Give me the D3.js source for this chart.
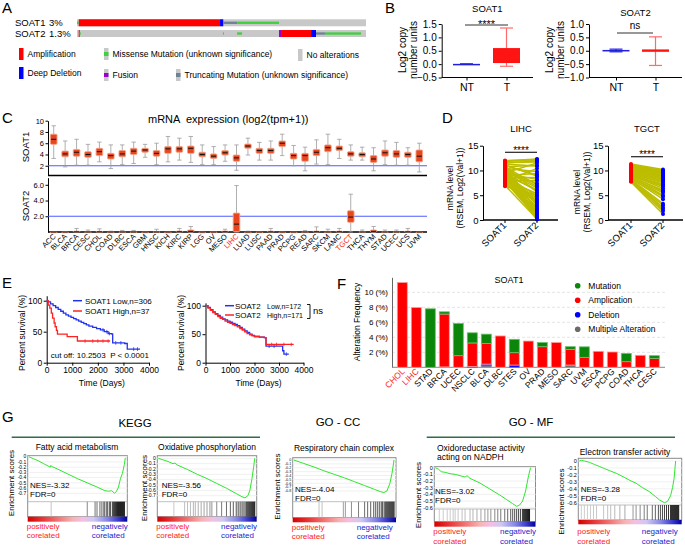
<!DOCTYPE html>
<html>
<head>
<meta charset="utf-8">
<script src="https://cdn.jsdelivr.net/npm/d3@7"></script>
<style>
  body { margin: 0; background: #fff; }
  svg { display: block; font-family: "Liberation Sans", Arial, Helvetica, sans-serif; }
</style>
</head>
<body>
<div id="chart"></div>
<script>
// ---------- A: oncoprint (sample index out of 1000) ----------
var genes = ['SOAT1', 'SOAT2'];
var genePct = ['3%', '1.3%'];
var amplification = [['SOAT1', 6, 495], ['SOAT2', 6, 9], ['SOAT2', 706, 810]];
var deepDeletion = [['SOAT1', 495, 506], ['SOAT2', 810, 827]];
var missense = [['SOAT1', 0, 6], ['SOAT1', 554, 699], ['SOAT2', 9, 13], ['SOAT2', 505, 508], ['SOAT2', 554, 571], ['SOAT2', 858, 983]];
var truncating = [['SOAT1', 506, 554], ['SOAT2', 827, 858]];
var fusion = [['SOAT2', 699, 706]];
var alterationTypes = ['Amplification', 'Missense Mutation (unknown significance)', 'No alterations',
  'Deep Deletion', 'Fusion', 'Truncating Mutation (unknown significance)'];

// ---------- B: copy number, [min, q1, median, q3, max] ----------
var cnGroups = ['NT', 'T'];
var soat1CN = [[-0.01, -0.01, 0, 0.01, 0.01], [-0.08, 0.04, 0.08, 0.6, 1.35]];
var soat2CN = [[-0.04, -0.02, 0.01, 0.03, 0.06], [-0.55, -0.04, 0.01, 0.05, 0.52]];

// ---------- C: pan-cancer expression ----------
var cancers = ['ACC', 'BLCA', 'BRCA', 'CESC', 'CHOL', 'COAD', 'DLBC', 'ESCA', 'GBM', 'HNSC', 'KICH', 'KIRC',
  'KIRP', 'LGG', 'OV', 'MESO', 'LIHC', 'LUAD', 'LUSC', 'PAAD', 'PRAD', 'PCPG', 'READ', 'SARC', 'SKCM', 'LAMC',
  'TGCT', 'THCA', 'THYM', 'STAD', 'UCEC', 'UCS', 'UVM'];
var highlighted = ['LIHC', 'TGCT'];
var soat1Stats = [
  [3.3, 5.8, 6.7, 7.6, 9.1], [1.8, 3.6, 4.1, 4.6, 6.4], [2.1, 3.7, 4.4, 4.9, 6.7], [2.1, 3.5, 4.0, 4.5, 5.8],
  [2.7, 3.8, 4.5, 5.1, 6.2], [1.5, 3.2, 3.8, 4.2, 5.7], [2.2, 3.6, 4.1, 4.7, 5.7], [2.4, 4.0, 4.6, 5.1, 6.2],
  [3.5, 4.4, 4.8, 5.1, 5.8], [2.2, 3.7, 4.2, 4.7, 6.0], [2.7, 4.2, 5.0, 5.4, 7.2], [3.0, 4.4, 5.0, 5.4, 6.9],
  [2.6, 4.2, 5.1, 5.5, 7.2], [2.2, 3.6, 4.0, 4.4, 5.7], [2.2, 3.3, 3.7, 4.1, 5.4], [2.8, 3.9, 4.3, 4.7, 5.7],
  [1.2, 2.8, 3.4, 3.9, 5.7], [3.9, 5.1, 5.5, 5.85, 6.9], [3.0, 4.2, 4.7, 5.1, 6.15], [3.0, 4.2, 4.7, 5.1, 6.4],
  [3.8, 5.4, 6.0, 6.4, 7.6], [2.0, 3.2, 3.8, 4.2, 5.6], [1.1, 2.8, 3.8, 4.2, 5.3], [2.3, 3.8, 4.4, 4.9, 6.6],
  [2.2, 4.5, 5.2, 5.7, 7.6], [3.3, 4.7, 5.1, 5.5, 6.7], [3.0, 3.7, 4.1, 4.5, 5.7], [3.0, 3.6, 4.0, 4.3, 5.3],
  [1.1, 2.6, 3.2, 3.8, 5.2], [2.2, 3.7, 4.3, 4.8, 6.4], [2.1, 3.5, 4.1, 4.7, 6.15], [2.1, 3.5, 4.0, 4.4, 5.2],
  [0.9, 2.7, 3.7, 4.8, 6.0]];
var soat2Stats = [
  [0, 0, 0, 0, 0.02], [0, 0, 0, 0.01, 0.05], [0, 0, 0.02, 0.1, 0.45], [0, 0, 0, 0.03, 0.25],
  [0, 0, 0.02, 0.08, 0.4], [0, 0, 0, 0.02, 0.1], [0, 0, 0, 0.03, 0.2], [0, 0, 0, 0.03, 0.2],
  [0, 0, 0, 0, 0.02], [0, 0, 0, 0.04, 0.35], [0, 0, 0, 0, 0.02], [0, 0, 0.03, 0.12, 0.45],
  [0, 0.02, 0.08, 0.25, 0.7], [0, 0, 0, 0, 0.01], [0, 0, 0, 0.02, 0.06], [0, 0, 0.03, 0.1, 0.35],
  [0, 0.05, 1.0, 2.4, 5.9], [0, 0, 0, 0.01, 0.1], [0, 0, 0, 0.01, 0.05], [0, 0, 0.02, 0.1, 0.45],
  [0, 0, 0, 0.01, 0.05], [0, 0, 0, 0, 0.02], [0, 0, 0, 0.03, 0.2], [0, 0, 0.03, 0.1, 0.65],
  [0, 0, 0, 0.03, 0.35], [0, 0, 0.03, 0.1, 0.45], [0, 1.23, 1.9, 2.7, 4.8], [0, 0, 0, 0.05, 0.25],
  [0, 0.02, 0.08, 0.25, 0.7], [0, 0, 0, 0.03, 0.25], [0, 0, 0, 0.03, 0.25], [0, 0, 0.02, 0.1, 0.45],
  [0, 0, 0, 0, 0.02]];

// ---------- D: paired expression ----------
var lihcSoat1 = [11.8, 11.5, 11.2, 10.9, 10.6, 10.4, 10.1, 9.9, 9.7, 9.5, 9.3, 9.1, 8.9, 8.7, 8.5, 8.3, 8.1,
  7.9, 7.6, 7.3, 7.0, 6.8, 11.9, 11.0, 10.2, 9.6, 9.0, 8.6, 8.0, 7.5, 10.8, 10.0, 9.4, 8.8, 8.2, 11.3, 10.5,
  9.8, 9.2, 8.4, 7.8, 11.6, 10.7, 9.9, 9.0, 8.6, 12.0, 11.1, 10.3, 9.5];
var lihcSoat2 = [12.2, 11.9, 0.3, 5.6, 2.1, 9.8, 0.8, 7.4, 3.3, 11.5, 1.2, 6.1, 0.1, 4.4, 8.6, 2.7, 0.5,
  10.4, 1.7, 3.9, 0.2, 5.0, 12.3, 9.1, 6.8, 1.4, 4.8, 0.6, 7.9, 2.4, 11.0, 3.6, 8.2, 0.9, 5.3, 10.9, 2.0,
  6.5, 1.1, 4.1, 0.4, 11.7, 7.1, 3.0, 9.4, 1.9, 12.1, 8.9, 0.7, 5.9];
var tgctSoat1 = [11.3, 11.0, 10.8, 10.6, 10.4, 10.2, 10.0, 9.8, 9.6, 9.4, 9.2, 9.0, 8.8, 8.6, 8.4, 8.2, 8.0,
  7.8, 11.1, 10.7, 10.3, 9.9, 9.5, 9.1, 8.7, 8.3, 7.9, 10.9, 10.1, 9.3, 8.5, 7.7, 10.5, 9.7, 8.9, 8.1];
var tgctSoat2 = [10.2, 9.8, 9.5, 9.3, 9.0, 8.8, 8.5, 8.2, 7.9, 7.5, 7.0, 6.4, 5.8, 5.0, 4.2, 3.3, 2.5,
  1.8, 10.0, 9.6, 9.1, 8.6, 8.0, 7.2, 6.0, 4.7, 3.0, 9.7, 8.9, 7.7, 5.5, 1.2, 9.4, 8.3, 6.8, 2.2];

// ---------- E: survival, [days, percent] ----------
var kmSoat1Low = [[0, 100], [60, 98], [150, 95], [250, 92], [350, 89], [450, 86], [550, 83], [650, 80],
  [750, 77], [850, 75], [950, 73], [1050, 71], [1150, 69], [1250, 67], [1350, 65], [1450, 63], [1550, 61],
  [1650, 59], [1800, 57], [1950, 55], [2100, 53], [2250, 50], [2400, 47], [2550, 46], [2580, 32],
  [3050, 31], [3150, 22], [3650, 22]];
var kmSoat1High = [[0, 100], [60, 93], [120, 88], [180, 80], [230, 72], [290, 64], [330, 58], [380, 52],
  [420, 46], [760, 46], [800, 42], [1180, 42], [1200, 35], [2480, 35]];
var kmSoat2Low = [[0, 100], [100, 97], [200, 93], [300, 89], [400, 86], [500, 83], [600, 80], [700, 77],
  [800, 75], [900, 73], [1000, 71], [1100, 69], [1200, 67], [1300, 65], [1400, 62], [1500, 59], [1600, 56],
  [1700, 53], [1800, 50], [1900, 48], [2000, 46], [2200, 45], [2400, 44], [2470, 29], [3130, 29],
  [3150, 21], [3200, 15], [3400, 15]];
var kmSoat2High = [[0, 100], [100, 96], [200, 92], [300, 88], [400, 85], [500, 81], [600, 78], [700, 76],
  [800, 73], [900, 71], [1000, 69], [1100, 67], [1200, 65], [1300, 63], [1400, 60], [1500, 57], [1600, 54],
  [1700, 51], [1800, 49], [1900, 47], [2000, 46], [2200, 45], [2400, 44], [2470, 32], [3600, 32]];
var censorSoat1Low = [2200, 2350, 2450, 2700, 2900, 3400, 3550];
var censorSoat1High = [1500, 1800, 2000, 2200, 2400];
var censorSoat2Low = [2600, 2800, 3300];
var censorSoat2High = [2700, 2900, 3200, 3500];

// ---------- F: alteration frequency (%) ----------
var freqCancers = ['CHOL', 'LIHC', 'STAD', 'BRCA', 'UCEC', 'NSCLC', 'BLCA', 'DLBC', 'STES', 'OV', 'PRAD',
  'MESO', 'SARC', 'UVM', 'ESCA', 'PCPG', 'COAD', 'THCA', 'CESC'];
var freqMutation = [0, 0, 7.8, 0.3, 4.3, 1.35, 1.25, 0, 1.78, 0, 0.55, 0, 0.35, 1.4, 0, 0, 1.1, 0, 0.35];
var freqAmplification = [11.3, 7.96, 0, 7.05, 1.55, 3.15, 2.75, 4.18, 1.65, 3.5, 2.75, 3.3, 2.1, 1.33, 2.13, 2.04, 0.75, 1.6, 1.2];
var freqDeletion = [0, 0, 0, 0, 0, 0.1, 0.22, 0, 0.3, 0, 0, 0, 0, 0, 0, 0, 0, 0, 0];
var freqMultiple = [0, 0, 0, 0.05, 0, 0, 0.2, 0, 0, 0, 0, 0, 0.3, 0, 0, 0, 0, 0, 0];
var freqKeys = ['multiple', 'deletion', 'amplification', 'mutation'];
var freqLegend = ['Mutation', 'Amplication', 'Deletion', 'Multiple Alteration'];

// ---------- G: GSEA ----------
var gseaGroups = ['KEGG', 'GO - CC', 'GO - MF'];
var gseaTitles = [['Fatty acid metabolism'], ['Oxidative phosphorylation'], ['Respiratory chain complex'],
  ['Oxidoreductase activity', 'acting on NADPH'], ['Electron transfer activity']];
var gseaNES = ['-3.32', '-3.56', '-4.04', '-3.02', '-3.28'];
var gseaMinTick = [-0.7, -0.7, -0.8, -0.6, -0.6];
var esFattyAcid = [[0, 0], [0.05, -0.04], [0.1, -0.08], [0.15, -0.13], [0.2, -0.18], [0.22, -0.2], [0.225, -0.17],
  [0.24, -0.19], [0.3, -0.24], [0.4, -0.33], [0.5, -0.42], [0.6, -0.5], [0.7, -0.58], [0.78, -0.65], [0.82, -0.66],
  [0.85, -0.65], [0.88, -0.7], [0.9, -0.66], [0.92, -0.58], [0.94, -0.42], [0.96, -0.32], [0.98, -0.15], [0.99, -0.02]];
var esOxPhos = [[0, 0], [0.05, -0.03], [0.1, -0.06], [0.15, -0.1], [0.17, -0.09], [0.2, -0.13], [0.3, -0.21],
  [0.4, -0.3], [0.5, -0.38], [0.6, -0.47], [0.7, -0.56], [0.8, -0.66], [0.86, -0.72], [0.89, -0.74], [0.92, -0.7],
  [0.94, -0.6], [0.96, -0.4], [0.98, -0.15], [0.99, 0]];
var esRespChain = [[0, 0], [0.1, -0.09], [0.2, -0.18], [0.3, -0.28], [0.4, -0.37], [0.5, -0.46], [0.6, -0.56],
  [0.7, -0.66], [0.8, -0.76], [0.86, -0.82], [0.89, -0.84], [0.92, -0.8], [0.95, -0.6], [0.97, -0.35],
  [0.985, -0.1], [0.99, 0]];
var esNADPH = [[0, 0], [0.03, -0.02], [0.06, -0.06], [0.1, -0.07], [0.15, -0.09], [0.2, -0.1], [0.25, -0.12],
  [0.3, -0.14], [0.32, -0.12], [0.35, -0.16], [0.45, -0.23], [0.55, -0.32], [0.65, -0.41], [0.72, -0.48],
  [0.78, -0.54], [0.82, -0.58], [0.85, -0.56], [0.88, -0.5], [0.91, -0.35], [0.94, -0.12], [0.96, 0]];
var esElectron = [[0, 0], [0.02, 0.01], [0.05, 0], [0.1, -0.02], [0.15, -0.05], [0.2, -0.08], [0.25, -0.11],
  [0.3, -0.14], [0.37, -0.18], [0.45, -0.24], [0.5, -0.28], [0.56, -0.32], [0.62, -0.38], [0.69, -0.44],
  [0.75, -0.51], [0.79, -0.56], [0.84, -0.6], [0.87, -0.58], [0.9, -0.5], [0.92, -0.38], [0.935, -0.25], [0.95, 0]];
var hitsFattyAcid = [0.23, 0.6, 0.68, 0.7, 0.73, 0.75, 0.77, 0.78, 0.8, 0.81, 0.83, 0.84, 0.86, 0.87, 0.88,
  0.89, 0.9, 0.91, 0.92, 0.93, 0.94, 0.95, 0.96, 0.97, 0.98];
var hitsOxPhos = [0.16, 0.27, 0.3, 0.33, 0.36, 0.38, 0.41, 0.44, 0.47, 0.5, 0.53, 0.55, 0.6, 0.65, 0.7, 0.74,
  0.77, 0.8, 0.82, 0.84, 0.86, 0.88, 0.9, 0.91, 0.92, 0.93, 0.94, 0.95, 0.96, 0.97, 0.98, 0.99];
var hitsRespChain = [0.25, 0.28, 0.49, 0.51, 0.57, 0.64, 0.7, 0.73, 0.76, 0.79, 0.81, 0.83, 0.85, 0.87, 0.88,
  0.9, 0.91, 0.92, 0.93, 0.94, 0.95, 0.96, 0.97, 0.98, 0.99];
var hitsNADPH = [0.04, 0.08, 0.12, 0.15, 0.18, 0.2, 0.23, 0.27, 0.3, 0.35, 0.38, 0.42, 0.46, 0.5, 0.53, 0.56,
  0.6, 0.63, 0.66, 0.7, 0.73, 0.76, 0.78, 0.8, 0.82, 0.84, 0.86, 0.88, 0.89, 0.9, 0.91, 0.92, 0.93, 0.94, 0.95];
var hitsElectron = [0.02, 0.05, 0.08, 0.11, 0.14, 0.17, 0.24, 0.28, 0.31, 0.35, 0.4, 0.45, 0.53, 0.56, 0.6,
  0.64, 0.67, 0.72, 0.75, 0.78, 0.8, 0.82, 0.84, 0.86, 0.88, 0.9, 0.91, 0.92, 0.93, 0.94, 0.95, 0.96, 0.97, 0.98];
var gseaCurves = [esFattyAcid, esOxPhos, esRespChain, esNADPH, esElectron];
var gseaHits = [hitsFattyAcid, hitsOxPhos, hitsRespChain, hitsNADPH, hitsElectron];

// =====================================================================
var svg = d3.select('#chart').append('svg').attr('width', 685).attr('height', 545);

function txt(g, s, x, y, size, anchor, fill) {
  return g.append('text').attr('x', x).attr('y', y).attr('font-size', size)
    .attr('text-anchor', anchor || 'start').attr('fill', fill || '#000').text(s);
}
function vtxt(g, s, x, y, size) {
  return g.append('text').attr('transform', 'translate(' + x + ',' + y + ') rotate(-90)')
    .attr('font-size', size).attr('text-anchor', 'middle').text(s);
}
function styleAxis(g, size) {
  g.attr('font-family', null).attr('font-size', size);
  g.selectAll('.tick text').attr('fill', '#000');
}
function hline(g, x1, x2, y, color, w) {
  return g.append('line').attr('x1', x1).attr('x2', x2).attr('y1', y).attr('y2', y)
    .attr('stroke', color || '#000').attr('stroke-width', w || 1);
}

[['A', 2, 13], ['B', 385, 13], ['C', 2, 123], ['D', 442, 123], ['E', 2, 288], ['F', 337, 289], ['G', 2, 422]]
  .forEach(function (p) { txt(svg, p[0], p[1], p[2], 15); });

// ---------- A ----------
var gA = svg.append('g');
var xA = d3.scaleLinear().domain([0, 1000]).range([77, 366]);
var yA = d3.scaleBand().domain(genes).range([19.3, 37]).paddingInner(0.35);
var bwA = yA.bandwidth();
gA.selectAll('rect.track').data(genes).join('rect').attr('class', 'track')
  .attr('x', xA(0)).attr('width', xA(1000) - xA(0))
  .attr('y', d => yA(d)).attr('height', bwA).attr('fill', '#c8c8c8');
function alteration(data, color, thin) {
  gA.append('g').selectAll('rect').data(data).join('rect')
    .attr('x', d => xA(d[1])).attr('width', d => Math.max(1, xA(d[2]) - xA(d[1])))
    .attr('y', d => yA(d[0]) + (thin ? bwA / 3 : 0))
    .attr('height', thin ? bwA / 3 : bwA).attr('fill', color);
}
alteration(amplification, '#ff0000', false);
alteration(deepDeletion, '#0000ff', false);
alteration(fusion, '#9a00cc', false);
alteration(truncating, '#6e8296', true);
alteration(missense, '#3fcf3f', true);
genes.forEach(function (g, i) {
  txt(gA, g, 15, yA(g) + bwA / 2 + 3.4, 9.5);
  txt(gA, genePct[i], 49, yA(g) + bwA / 2 + 3.4, 9.5);
});
var legA = [
  { x: 19, y: 48, fill: '#ff0000', mid: null }, { x: 104, y: 48, fill: '#c8c8c8', mid: '#3fcf3f' },
  { x: 298, y: 49, fill: '#c8c8c8', mid: null }, { x: 19, y: 67, fill: '#0000ff', mid: null },
  { x: 104, y: 69, fill: '#c8c8c8', mid: '#9a00cc' }, { x: 176, y: 69, fill: '#c8c8c8', mid: '#6e8296' }];
legA.forEach(function (l, i) {
  gA.append('rect').attr('x', l.x).attr('y', l.y).attr('width', 4.5).attr('height', 12).attr('fill', l.fill);
  if (l.mid) gA.append('rect').attr('x', l.x).attr('y', l.y + 4).attr('width', 4.5).attr('height', 4).attr('fill', l.mid);
  txt(gA, alterationTypes[i], l.x + 8.5, l.y + 9, 8.5);
});

// ---------- B ----------
function cnPanel(stats, axisX, axisR, pts, dom, ticks, title, titleY, sig, sigLineY, sigX1, sigX2, labX) {
  var g = svg.append('g');
  var y = d3.scaleLinear().domain(dom).range([77.5, 24]);
  var x = d3.scalePoint().domain(cnGroups).range(pts);
  g.append('g').attr('transform', 'translate(' + axisX + ',0)')
    .call(d3.axisLeft(y).tickValues(ticks).tickFormat(d3.format('.1f')).tickSize(3).tickSizeOuter(0).tickPadding(2))
    .call(styleAxis, 10);
  hline(g, axisX, axisR, y(dom[0]));
  g.append('g').attr('transform', 'translate(0,' + y(dom[0]) + ')')
    .call(d3.axisBottom(x).tickSize(3).tickPadding(3))
    .call(styleAxis, 10.5).call(a => a.select('.domain').remove());
  var box = g.selectAll('g.box').data(stats).join('g').attr('class', 'box')
    .attr('transform', (d, i) => 'translate(' + x(cnGroups[i]) + ',0)');
  var col = (d, i) => i === 0 ? '#1f1fdd' : '#ff1414';
  var wcol = (d, i) => i === 0 ? '#1f1fdd' : '#ff6a6a';
  box.append('line').attr('y1', d => y(d[0])).attr('y2', d => y(d[4])).attr('stroke', wcol).attr('stroke-width', 1.2);
  box.append('line').attr('x1', -6.5).attr('x2', 6.5).attr('y1', d => y(d[4])).attr('y2', d => y(d[4])).attr('stroke', wcol).attr('stroke-width', 1.2);
  box.append('line').attr('x1', -6.5).attr('x2', 6.5).attr('y1', d => y(d[0])).attr('y2', d => y(d[0])).attr('stroke', wcol).attr('stroke-width', 1.2);
  box.append('rect').attr('x', -13.5).attr('width', 27).attr('y', d => y(d[3]))
    .attr('height', d => Math.max(1.5, y(d[1]) - y(d[3]))).attr('fill', col);
  txt(g, title, (axisX + axisR) / 2, titleY, 9.5, 'middle');
  hline(g, sigX1, sigX2, sigLineY, '#333', 1.2);
  txt(g, sig, (sigX1 + sigX2) / 2, sigLineY - (sig === 'ns' ? 4 : -3), sig === 'ns' ? 10 : 11, 'middle');
  vtxt(g, 'Log2 copy', labX, 50, 10);
  vtxt(g, 'number units', labX + 10.5, 50, 10);
}
cnPanel(soat1CN, 441.7, 533, [466.5, 506.5], [-0.5, 1.5], [-0.5, 0, 0.5, 1, 1.5], 'SOAT1', 11.5, '****', 25, 465, 508, 406);
cnPanel(soat2CN, 589, 682, [616, 655.5], [-1, 1], [-1, -0.5, 0, 0.5, 1], 'SOAT2', 16, 'ns', 33, 617, 653, 553);

// ---------- C ----------
var gC = svg.append('g');
var xC = d3.scaleBand().domain(cancers).range([48, 425]);
var cx = d => xC(d) + xC.bandwidth() / 2;
var yC1 = d3.scaleLinear().domain([0.27, 10]).range([175.5, 120.7]);
var yC2 = d3.scaleLinear().domain([0, 6.9]).range([232, 177.7]);
gC.append('g').attr('transform', 'translate(48,0)')
  .call(d3.axisLeft(yC1).tickValues([2, 4, 6, 8, 10]).tickSize(2.5).tickSizeOuter(0).tickPadding(1.5)).call(styleAxis, 7.5);
gC.append('g').attr('transform', 'translate(48,0)')
  .call(d3.axisLeft(yC2).tickValues([2, 4, 6]).tickSize(2.5).tickSizeOuter(0).tickPadding(1.5)).call(styleAxis, 7.5);
hline(gC, 48, 427, yC1(2), '#4d5cff', 1.2);
hline(gC, 48, 427, yC2(2), '#4d5cff', 1.2);
hline(gC, 48, 427, 175.5, '#000', 1.6);
hline(gC, 48, 427, 232, '#000', 1.3);
function cBoxes(stats, y) {
  var items = gC.append('g').selectAll('g').data(stats).join('g')
    .attr('transform', (d, i) => 'translate(' + cx(cancers[i]) + ',0)');
  items.append('line').attr('y1', d => y(d[0])).attr('y2', d => y(d[4])).attr('stroke', '#9c9c9c').attr('stroke-width', 0.8);
  items.append('line').attr('x1', -2.2).attr('x2', 2.2).attr('y1', d => y(d[4])).attr('y2', d => y(d[4])).attr('stroke', '#9c9c9c').attr('stroke-width', 0.8);
  items.append('line').attr('x1', -2.2).attr('x2', 2.2).attr('y1', d => y(d[0])).attr('y2', d => y(d[0])).attr('stroke', '#9c9c9c').attr('stroke-width', 0.8);
  items.append('rect').attr('x', -3.3).attr('width', 6.6).attr('y', d => y(d[3]))
    .attr('height', d => Math.max(0.8, y(d[1]) - y(d[3]))).attr('rx', 1)
    .attr('fill', '#e8461e').attr('stroke', '#f3a083').attr('stroke-width', 0.9);
  items.append('line').attr('x1', -2.6).attr('x2', 2.6).attr('y1', d => y(d[2])).attr('y2', d => y(d[2])).attr('stroke', '#111').attr('stroke-width', 1);
}
cBoxes(soat1Stats, yC1);
cBoxes(soat2Stats, yC2);
vtxt(gC, 'SOAT1', 28.5, 147, 9.5);
vtxt(gC, 'SOAT2', 28.5, 206, 9.5);
txt(gC, 'mRNA  expression (log2(tpm+1))', 148, 122.5, 11).style('white-space', 'pre');
gC.selectAll('text.cl').data(cancers).join('text').attr('class', 'cl')
  .attr('transform', d => 'translate(' + (cx(d) + 2.5) + ',237) rotate(-45)')
  .attr('text-anchor', 'end').attr('font-size', 7.5)
  .attr('fill', d => highlighted.indexOf(d) >= 0 ? '#ff2020' : '#000').text(d => d);

// ---------- D ----------
function pairedPanel(s1, s2, axisX, axisR, pts, title, sigLineY, labX, labY) {
  var g = svg.append('g');
  var y = d3.scaleLinear().domain([0, 15]).range([220, 145.7]);
  var x = d3.scalePoint().domain(['SOAT1', 'SOAT2']).range(pts);
  g.append('g').attr('transform', 'translate(' + axisX + ',0)')
    .call(d3.axisLeft(y).tickValues([0, 5, 10, 15]).tickSize(3).tickSizeOuter(0).tickPadding(1.5)).call(styleAxis, 9.5);
  hline(g, axisX, axisR, y(0), '#000', 1.3);
  g.selectAll('line.pair').data(d3.zip(s1, s2)).join('line').attr('class', 'pair')
    .attr('x1', x('SOAT1')).attr('x2', x('SOAT2')).attr('y1', d => y(d[0])).attr('y2', d => y(d[1]))
    .attr('stroke', '#bdbd00').attr('stroke-width', 1.5);
  g.selectAll('circle.s1').data(s1).join('circle').attr('class', 's1')
    .attr('cx', x('SOAT1')).attr('cy', d => y(d)).attr('r', 2).attr('fill', '#ff0000');
  g.selectAll('circle.s2').data(s2).join('circle').attr('class', 's2')
    .attr('cx', x('SOAT2')).attr('cy', d => y(d)).attr('r', 2).attr('fill', '#0000ff');
  g.selectAll('line.xt').data(x.domain()).join('line').attr('class', 'xt')
    .attr('x1', d => x(d)).attr('x2', d => x(d)).attr('y1', y(0)).attr('y2', y(0) + 3).attr('stroke', '#000');
  g.selectAll('text.xl').data(x.domain()).join('text').attr('class', 'xl')
    .attr('transform', d => 'translate(' + (x(d) + 2) + ',' + (y(0) + 6) + ') rotate(-45)')
    .attr('text-anchor', 'end').attr('font-size', 9.5).text(d => d);
  txt(g, title, (pts[0] + pts[1]) / 2, 131.5, 9.5, 'middle');
  hline(g, pts[0], pts[1], sigLineY, '#222', 1.2);
  txt(g, '****', (pts[0] + pts[1]) / 2, sigLineY + 1.5, 10, 'middle');
  vtxt(g, 'mRNA level', labX, labY, 8.5);
  vtxt(g, '(RSEM, Log2(Val+1))', labX + 10, labY, 8.5);
}
pairedPanel(lihcSoat1, lihcSoat2, 483, 558, [505, 537], 'LIHC', 152.3, 453, 188);
pairedPanel(tgctSoat1, tgctSoat2, 608, 683, [631, 663], 'TGCT', 156.7, 580, 192);

// ---------- E ----------
function kmPanel(curves, censors, colors, xr, y0, y100, yMax, legX, legY) {
  var g = svg.append('g');
  var x = d3.scaleLinear().domain([0, 4000]).range(xr);
  var y = d3.scaleLinear().domain([0, 100]).range([y0, y100]);
  var yAx = y.copy().domain([0, yMax]).range([y0, y(yMax)]);
  g.append('g').attr('transform', 'translate(' + xr[0] + ',0)')
    .call(d3.axisLeft(yAx).tickValues([0, 50, 100]).tickSize(3).tickSizeOuter(0).tickPadding(1.5)).call(styleAxis, 8.5);
  g.append('g').attr('transform', 'translate(0,' + y0 + ')')
    .call(d3.axisBottom(x).tickValues([0, 1000, 2000, 3000, 4000]).tickFormat(d3.format('d')).tickSize(3).tickSizeOuter(0).tickPadding(1.5))
    .call(styleAxis, 8.5);
  var line = d3.line().x(d => x(d[0])).y(d => y(d[1])).curve(d3.curveStepAfter);
  var bis = d3.bisector(d => d[0]).right;
  curves.forEach(function (c, i) {
    g.append('path').datum(c).attr('d', line).attr('fill', 'none').attr('stroke', colors[i]).attr('stroke-width', 1.3);
    g.selectAll(null).data(censors[i]).join('line')
      .attr('x1', d => x(d)).attr('x2', d => x(d))
      .attr('y1', d => y(c[Math.max(0, bis(c, d) - 1)][1]) - 1.8)
      .attr('y2', d => y(c[Math.max(0, bis(c, d) - 1)][1]) + 1.8)
      .attr('stroke', colors[i]).attr('stroke-width', 0.8);
    hline(g, legX, legX + 9, legY[i], colors[i], 1.5);
  });
  txt(g, 'Time (Days)', (xr[0] + xr[1]) / 2 + 4, 385.5, 8.5, 'middle');
  vtxt(g, 'Percent survival (%)', xr[0] - 22, 333, 8.5);
  return g;
}
var gE1 = kmPanel([kmSoat1Low, kmSoat1High], [censorSoat1Low, censorSoat1High], ['#2233ee', '#ff2222'],
  [46.7, 149], 362.7, 300.7, 108, 73, [300.7, 311]);
txt(gE1, 'SOAT1 Low,n=306', 85, 303.6, 8);
txt(gE1, 'SOAT1 High,n=37', 85, 313.9, 8);
txt(gE1, 'cut off: 10.2503  P < 0.0001', 50.7, 358, 8).style('white-space', 'pre');
var gE2 = kmPanel([kmSoat2Low, kmSoat2High], [censorSoat2Low, censorSoat2High], ['#2233ee', '#ff2222'],
  [205.5, 303.5], 362.7, 305.7, 105, 225, [305.7, 315]);
txt(gE2, 'SOAT2', 235, 308.6, 8);
txt(gE2, 'Low,n=172', 267, 308.6, 7);
txt(gE2, 'SOAT2', 235, 317.9, 8);
txt(gE2, 'High,n=171', 267, 317.9, 7);
gE2.append('path').attr('d', 'M307,304.5H310V318.5H307').attr('fill', 'none').attr('stroke', '#000').attr('stroke-width', 0.9);
txt(gE2, 'ns', 313, 313.5, 9.5);

// ---------- F ----------
var gF = svg.append('g');
var xF = d3.scaleBand().domain(freqCancers).range([395.3, 661.3]).paddingInner(0.286).paddingOuter(0.143);
var yF = d3.scaleLinear().domain([0, 12]).range([367.3, 277.3]);
var freqRows = freqCancers.map(function (c, i) {
  return { cancer: c, mutation: freqMutation[i], amplification: freqAmplification[i],
    deletion: freqDeletion[i], multiple: freqMultiple[i] };
});
var freqColors = { multiple: '#6b6b6b', deletion: '#0000ff', amplification: '#ff0000', mutation: '#0b860b' };
var freqStroke = { multiple: '#a0a0a0', deletion: '#6a6aff', amplification: '#ff9a9a', mutation: '#6cbf6c' };
gF.selectAll('line.grid').data([2, 4, 6, 8, 10]).join('line').attr('class', 'grid')
  .attr('x1', 392).attr('x2', 667).attr('y1', d => yF(d)).attr('y2', d => yF(d))
  .attr('stroke', '#e4e4e4').attr('stroke-dasharray', '3,2');
gF.append('g').attr('transform', 'translate(392,0)')
  .call(d3.axisLeft(yF).tickValues([2, 4, 6, 8, 10]).tickFormat(d => d + ' (%)').tickSize(0).tickPadding(4))
  .call(styleAxis, 8).call(a => a.select('.domain').attr('stroke', '#666'));
hline(gF, 392, 665, yF(0), '#888', 1);
gF.append('g').selectAll('g').data(d3.stack().keys(freqKeys)(freqRows)).join('g')
  .attr('fill', d => freqColors[d.key]).attr('stroke', d => freqStroke[d.key]).attr('stroke-width', 0.8)
  .selectAll('rect').data(d => d.filter(s => s[1] - s[0] > 0)).join('rect')
  .attr('x', d => xF(d.data.cancer)).attr('width', xF.bandwidth())
  .attr('y', d => yF(d[1])).attr('height', d => yF(d[0]) - yF(d[1]));
gF.selectAll('text.fl').data(freqCancers).join('text').attr('class', 'fl')
  .attr('transform', d => 'translate(' + (xF(d) + xF.bandwidth() / 2 + 3) + ',372) rotate(-45)')
  .attr('text-anchor', 'end').attr('font-size', 8.5)
  .attr('fill', (d, i) => i < 2 ? '#ff2020' : '#000').text(d => d);
txt(gF, 'SOAT1', 509, 283, 9, 'middle');
vtxt(gF, 'Alteration Frequency', 359.5, 322, 8.5);
var legColors = [freqColors.mutation, freqColors.amplification, freqColors.deletion, freqColors.multiple];
var yLegF = d3.scalePoint().domain(freqLegend).range([285.7, 329.3]);
freqLegend.forEach(function (l, i) {
  gF.append('circle').attr('cx', 577.7).attr('cy', yLegF(l)).attr('r', 2.8).attr('fill', legColors[i]);
  txt(gF, l, 588.3, yLegF(l) + 3, 8.5);
});

// ---------- G ----------
var gG = svg.append('g');
txt(gG, gseaGroups[0], 135, 427, 11.5, 'middle');
txt(gG, gseaGroups[1], 338, 426, 11.5, 'middle');
txt(gG, gseaGroups[2], 531, 426, 11.5, 'middle');
hline(gG, 11.7, 260, 437.3, '#336b46', 1.6);
hline(gG, 426.7, 675, 437.3, '#336b46', 1.6);
var defs = svg.append('defs');
var grad = defs.append('linearGradient').attr('id', 'rankGrad');
[[0, '#d40000'], [0.12, '#e42a2a'], [0.3, '#f07272'], [0.45, '#f6b3b3'], [0.55, '#f4bfe2'],
 [0.66, '#cfc8f2'], [0.8, '#8585e6'], [0.92, '#3434c8'], [1, '#0000a0']].forEach(function (s) {
  grad.append('stop').attr('offset', s[0]).attr('stop-color', s[1]);
});
var gLayout = [
  { x0: 27.7, x1: 127.3, top: 455.7, zero: 456.7, low: 493.3, strip: 501.7, stripB: 516.7, barB: 521.7, tx: 77, ty: 449.5, ex: 13.5, ey: 483, nx: 30, ny: 487.5, py: 528.5, negX: 91.7 },
  { x0: 157.3, x1: 256.7, top: 455.7, zero: 458.3, low: 495.7, strip: 501.7, stripB: 516.7, barB: 521.7, tx: 207, ty: 449.5, ex: 146.8, ey: 488, nx: 161.7, ny: 487.5, py: 528.5, negX: 221 },
  { x0: 292.7, x1: 396, top: 457.7, zero: 460, low: 491, strip: 501.7, stripB: 517.7, barB: 522.3, tx: 344, ty: 451, ex: 280, ey: 486.7, nx: 295, ny: 491.5, py: 529.5, negX: 356.7 },
  { x0: 434.3, x1: 535.5, top: 466.7, zero: 467.7, low: 507.7, strip: 509, stripB: 521.7, barB: 526.7, tx: 437, ty: 450.5, ex: 420.8, ey: 495, nx: 435, ny: 493.5, py: 534.3, negX: 500 },
  { x0: 578.3, x1: 681.7, top: 458.3, zero: 461, low: 502.7, strip: 505, stripB: 520, barB: 524.3, tx: 625, ty: 454.5, ex: 563.5, ey: 501.7, nx: 580.7, ny: 491.5, py: 534.3, negX: 641.7 }];
gLayout.forEach(function (L, k) {
  var g = gG.append('g');
  var x = d3.scaleLinear().domain([0, 1]).range([L.x0 + 1, L.x1 - 1]);
  var y = d3.scaleLinear().domain([0, gseaMinTick[k]]).range([L.zero, L.low]);
  var ticks = d3.range(0, Math.round(-gseaMinTick[k] * 10) + 1).map(t => -t / 10);
  var tickFont = Math.min(5.5, (L.low - L.zero) / (ticks.length - 1) * 0.95);
  g.append('rect').attr('x', L.x0).attr('y', L.top).attr('width', L.x1 - L.x0).attr('height', L.stripB - L.top)
    .attr('fill', '#fff').attr('stroke', '#8a8a8a').attr('stroke-width', 1);
  g.selectAll('line.gl').data(ticks).join('line').attr('class', 'gl')
    .attr('x1', L.x0).attr('x2', L.x1).attr('y1', d => y(d)).attr('y2', d => y(d)).attr('stroke', '#f0f0f0');
  hline(g, L.x0, L.x1, L.strip, '#b0b0b0', 0.8);
  g.selectAll('line.hit').data(gseaHits[k]).join('line').attr('class', 'hit')
    .attr('x1', d => x(d)).attr('x2', d => x(d)).attr('y1', L.strip).attr('y2', L.stripB)
    .attr('stroke', d => d3.interpolateGreys(0.3 + 0.7 * d * d)).attr('stroke-width', 1);
  g.append('rect').attr('x', L.x0).attr('y', L.stripB).attr('width', L.x1 - L.x0).attr('height', L.barB - L.stripB)
    .attr('fill', 'url(#rankGrad)');
  g.append('path').datum(gseaCurves[k]).attr('fill', 'none').attr('stroke', '#2ee62e').attr('stroke-width', 1)
    .attr('d', d3.line().x(d => x(d[0])).y(d => y(d[1])));
  g.selectAll('text.tk').data(ticks).join('text').attr('class', 'tk')
    .attr('x', L.x0 - 1.5).attr('y', d => y(d)).attr('dy', '0.35em').attr('text-anchor', 'end')
    .attr('font-size', tickFont).text(d => d === 0 ? '0' : d.toFixed(1));
  vtxt(g, 'Enrichment scores', L.ex, L.ey, 8);
  var tl = gseaTitles[k];
  tl.forEach(function (t, j) {
    txt(g, t, L.tx, L.ty + j * 9, 8.5, tl.length > 1 ? 'start' : 'middle');
  });
  txt(g, 'NES=' + gseaNES[k], L.nx, L.ny, 8);
  txt(g, 'FDR=0', L.nx, L.ny + 9.3, 8);
  txt(g, 'positively', L.x0 - 1, L.py, 8, 'start', '#ff1a1a');
  txt(g, 'corelated', L.x0 - 1, L.py + 9.2, 8, 'start', '#ff1a1a');
  txt(g, 'negatively', L.negX, L.py, 8, 'start', '#2323d0');
  txt(g, 'corelated', L.negX, L.py + 9.2, 8, 'start', '#2323d0');
});
</script>
</body>
</html>
